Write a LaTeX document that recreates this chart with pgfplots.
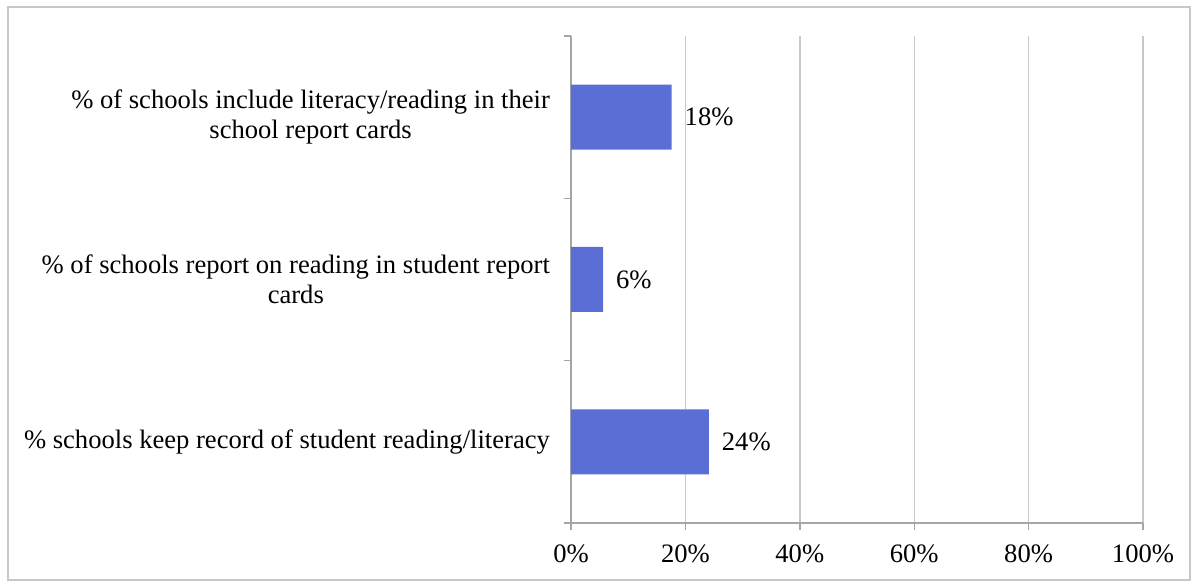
\documentclass[border=0pt]{standalone}
\usepackage{fontspec}
\setmainfont{Liberation Serif}
\usepackage{pgfplots}
\pgfplotsset{compat=1.18}
\definecolor{barblue}{RGB}{91,110,214}
\definecolor{gridgray}{RGB}{200,200,200}
\definecolor{axisgray}{RGB}{165,165,165}
\newcommand\lbl{\fontsize{13.3pt}{15pt}\selectfont}

\begin{document}
\begin{tikzpicture}[x=1pt,y=1pt]
\useasboundingbox (0,0) rectangle (597.5,292);
\draw[gridgray, line width=0.8pt] (4,2) rectangle (595,288.5);
\begin{axis}[
    at={(285.5pt,30.5pt)}, anchor=south west,
    scale only axis,
    width=286pt, height=243.5pt,
    xbar, bar width=32.5pt,
    xmin=0, xmax=100,
    ymin=-0.5, ymax=2.5,
    axis lines=left,
    axis line style={-, axisgray, line width=0.7pt},
    xtick={0,20,...,100},
    xticklabels={0\%,20\%,40\%,60\%,80\%,100\%},
    xticklabel style={yshift=-4pt},
    xmajorgrids,
    grid style={gridgray, line width=0.7pt},
    tick align=outside,
    tick style={axisgray, line width=0.7pt},
    major tick length=3.5pt,
    ytick={-0.5,0.5,1.5,2.5},
    yticklabels={},
    extra y ticks={0,1,2},
    extra y tick labels={
        \% schools keep record of student reading/literacy,
        {\% of schools report on reading in student report\\cards},
        {\% of schools include literacy/reading in their\\school report cards}},
    extra y tick style={major tick length=0pt, grid=none,
        yticklabel style={align=center, xshift=-7pt}},
    tick label style={font=\lbl, text=black},
    /pgf/number format/assume math mode=true,
    nodes near coords={\pgfmathprintnumber[fixed,precision=0]{\pgfplotspointmeta}\%},
    nodes near coords style={font=\lbl, text=black, xshift=3pt},
]
\addplot[fill=barblue, draw=none] coordinates {
    (24.1,0) (5.6,1) (17.6,2)
};
\end{axis}
\end{tikzpicture}
\end{document}
